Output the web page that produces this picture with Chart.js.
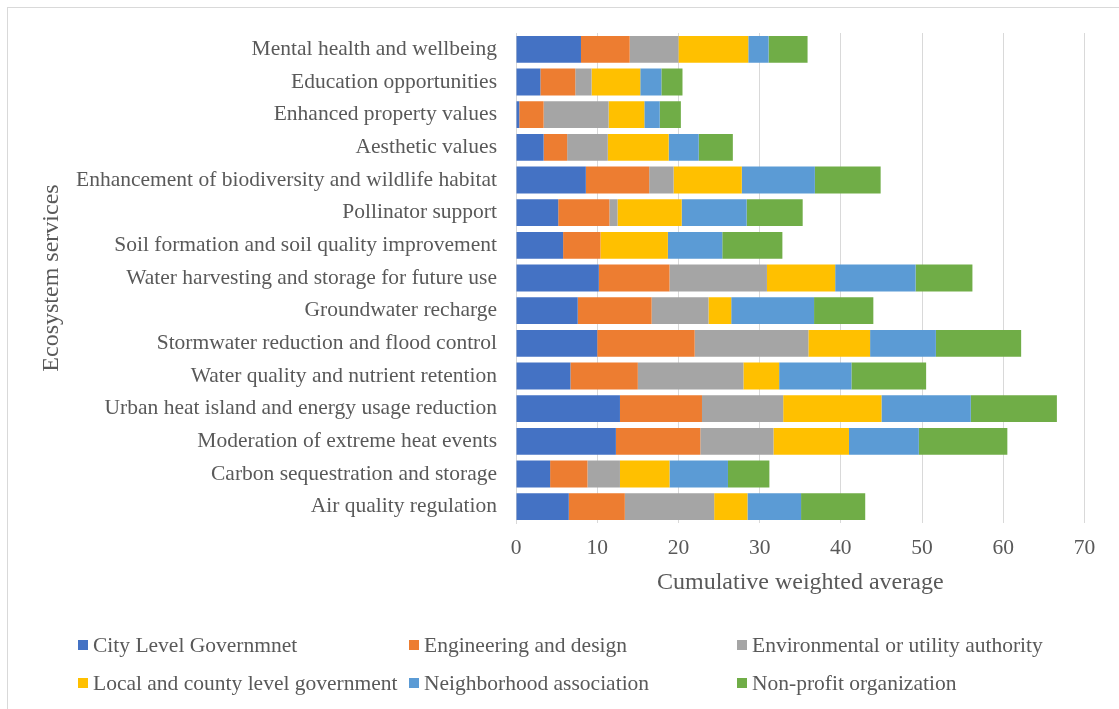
<!DOCTYPE html>
<html>
<head>
<meta charset="utf-8">
<script src="https://cdn.jsdelivr.net/npm/chart.js@4/dist/chart.umd.min.js"></script>
<style>
    html, body { margin: 0; padding: 0; background: #fff; overflow: hidden; }
    #wrap { position: relative; width: 1119px; height: 709px; }
    #frame { position: absolute; left: 7px; top: 7px; width: 1200px; height: 800px; border: 1px solid #d9d9d9; box-sizing: border-box; }
    #serviceChart { position: absolute; left: 0; top: 0; }
    .legend-item { position: absolute; font-family: "Liberation Serif", "Times New Roman", serif; font-size: 21.5px; color: #595959; white-space: nowrap; line-height: 24px; }
    .legend-item span { position: absolute; left: 0; top: 7px; width: 10px; height: 10px; }
    .legend-item b { font-weight: normal; position: absolute; left: 15px; top: 0; }
</style>
</head>
<body>
<div id="wrap">
    <div id="frame"></div>
    <canvas id="serviceChart" width="1119" height="709"></canvas>
    <div id="legend"></div>
</div>
<script>
const services = [
    "Mental health and wellbeing",
    "Education opportunities",
    "Enhanced property values",
    "Aesthetic values",
    "Enhancement of biodiversity and wildlife habitat",
    "Pollinator support",
    "Soil formation and soil quality improvement",
    "Water harvesting and storage for future use",
    "Groundwater recharge",
    "Stormwater reduction and flood control",
    "Water quality and nutrient retention",
    "Urban heat island and energy usage reduction",
    "Moderation of extreme heat events",
    "Carbon sequestration and storage",
    "Air quality regulation"
];

const seriesNames = [
    "City Level Governmnet",
    "Engineering and design",
    "Environmental or utility authority",
    "Local and county level government",
    "Neighborhood association",
    "Non-profit organization"
];

const cityLevel     = [8.0, 3.0, 0.4, 3.4, 8.6, 5.2, 5.8, 10.2, 7.6, 10.0, 6.7, 12.8, 12.3, 4.2, 6.5];
const engineering   = [6.0, 4.3, 3.0, 2.9, 7.8, 6.3, 4.6, 8.7, 9.1, 12.0, 8.3, 10.1, 10.4, 4.6, 6.9];
const environmental = [6.0, 2.0, 8.0, 5.0, 3.0, 1.0, 0.0, 12.0, 7.0, 14.0, 13.0, 10.0, 9.0, 4.0, 11.0];
const localCounty   = [8.6, 6.0, 4.4, 7.5, 8.4, 7.9, 8.3, 8.4, 2.8, 7.6, 4.4, 12.1, 9.3, 6.1, 4.1];
const neighborhood  = [2.5, 2.6, 1.9, 3.7, 9.0, 8.0, 6.7, 9.9, 10.2, 8.1, 8.9, 11.0, 8.6, 7.2, 6.6];
const nonProfit     = [4.8, 2.6, 2.6, 4.2, 8.1, 6.9, 7.4, 7.0, 7.3, 10.5, 9.2, 10.6, 10.9, 5.1, 7.9];

const xTicks = [0, 10, 20, 30, 40, 50, 60, 70];

const colors = ['#4472C4', '#ED7D31', '#A5A5A5', '#FFC000', '#5B9BD5', '#70AD47'];
const seriesValues = [cityLevel, engineering, environmental, localCounty, neighborhood, nonProfit];

const textColor = '#595959';
const serif = '"Liberation Serif", "Times New Roman", serif';

const datasets = seriesNames.map((name, i) => ({
    label: name,
    data: seriesValues[i],
    backgroundColor: colors[i],
    borderWidth: 0,
    categoryPercentage: 1,
    barPercentage: 0.82
}));

const chart = new Chart(document.getElementById('serviceChart'), {
    type: 'bar',
    data: { labels: services, datasets: datasets },
    options: {
        indexAxis: 'y',
        responsive: false,
        animation: false,
        layout: { padding: { left: 0, top: 33, right: 34.5, bottom: 111.6 } },
        plugins: {
            legend: { display: false },
            tooltip: { enabled: false }
        },
        scales: {
            x: {
                stacked: true,
                min: 0,
                max: 70,
                afterBuildTicks: (scale) => {
                    scale.ticks = xTicks.map(v => ({ value: v }));
                },
                afterFit: (scale) => { scale.height = 74.4; },
                grid: { color: '#d9d9d9', drawTicks: false },
                border: { display: false },
                ticks: { color: textColor, padding: 12.4, font: { family: serif, size: 21.5 } },
                title: {
                    display: true,
                    text: 'Cumulative weighted average',
                    color: textColor,
                    padding: { top: 0, bottom: 0 },
                    font: { family: serif, size: 24, lineHeight: 1.2 }
                }
            },
            y: {
                stacked: true,
                afterFit: (scale) => { scale.width = 516; },
                grid: { display: false, drawTicks: false },
                border: { display: true, color: '#d9d9d9' },
                ticks: { color: textColor, padding: 19, autoSkip: false, font: { family: serif, size: 21.5 } },
                title: {
                    display: true,
                    text: 'Ecosystem services',
                    color: textColor,
                    padding: { top: 37.6, bottom: 0 },
                    font: { family: serif, size: 24, lineHeight: 1.2 }
                }
            }
        }
    }
});

// legend laid out in three columns, two rows
const legendCols = [78, 409, 737];
const legendRows = [633, 671];
const legendBox = document.getElementById('legend');
seriesNames.forEach((name, i) => {
    const item = document.createElement('div');
    item.className = 'legend-item';
    item.style.left = legendCols[i % 3] + 'px';
    item.style.top = legendRows[Math.floor(i / 3)] + 'px';
    item.innerHTML = '<span style="background:' + colors[i] + '"></span><b>' + name + '</b>';
    legendBox.appendChild(item);
});
</script>
</body>
</html>
